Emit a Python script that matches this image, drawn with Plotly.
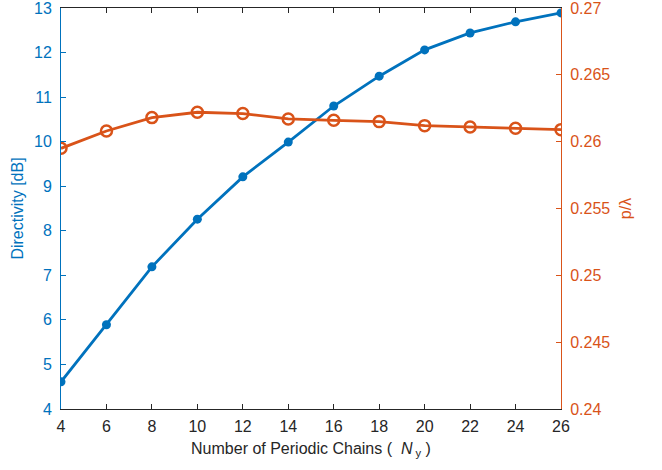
import plotly.graph_objects as go

ny = [4, 6, 8, 10, 12, 14, 16, 18, 20, 22, 24, 26]
directivity = [4.61, 5.89, 7.19, 8.26, 9.21, 9.99, 10.80, 11.47, 12.06, 12.44, 12.69, 12.89]
p_over_lambda = [0.2595, 0.2608, 0.2618, 0.2622, 0.2621, 0.2617, 0.2616, 0.2615, 0.2612, 0.2611, 0.2610, 0.2609]

x_ticks = list(range(4, 27, 2))
y1_ticks = list(range(4, 14))
y2_ticks = [0.24, 0.245, 0.25, 0.255, 0.26, 0.265, 0.27]
y2_labels = ["0.24", "0.245", "0.25", "0.255", "0.26", "0.265", "0.27"]

BLUE = "#0072BD"
ORANGE = "#D95319"
GRAY = "#262626"
FONT = "Liberation Sans, Arial, sans-serif"
FS = 16

fig = go.Figure()
fig.add_trace(go.Scatter(
    x=ny, y=directivity, mode="lines+markers",
    line=dict(color=BLUE, width=2.8),
    marker=dict(color=BLUE, size=9, symbol="circle"),
    yaxis="y", showlegend=False, cliponaxis=True))
fig.add_trace(go.Scatter(
    x=ny, y=p_over_lambda, mode="lines+markers",
    line=dict(color=ORANGE, width=2.8),
    marker=dict(color=ORANGE, size=11, symbol="circle-open",
                line=dict(color=ORANGE, width=2.5)),
    yaxis="y2", showlegend=False, cliponaxis=True))

fig.update_layout(
    width=662, height=470,
    margin=dict(l=61, r=101, t=8, b=61, autoexpand=False),
    paper_bgcolor="white", plot_bgcolor="white",
    font=dict(family=FONT, size=FS, color=GRAY),
    xaxis=dict(
        range=[4, 26], tickvals=x_ticks, ticktext=[str(v) for v in x_ticks],
        showgrid=False, zeroline=False, automargin=False,
        showline=True, linecolor=GRAY, linewidth=1, mirror="ticks",
        ticks="inside", ticklen=5, tickcolor=GRAY,
        ticklabelstandoff=3,
        tickfont=dict(size=FS, color=GRAY, family=FONT),
        title=dict(text="Number of Periodic Chains (  <i>N</i><sub> y</sub> )",
                   font=dict(size=FS, color=GRAY, family=FONT), standoff=8),
    ),
    yaxis=dict(
        range=[4, 13], tickvals=y1_ticks, ticktext=[str(v) for v in y1_ticks],
        showgrid=False, zeroline=False, automargin=False,
        showline=True, linecolor=BLUE, linewidth=1,
        ticks="inside", ticklen=5, tickcolor=BLUE,
        ticklabelstandoff=5, ticklabeloverflow="allow",
        tickfont=dict(size=FS, color=BLUE, family=FONT),
        title=dict(text="Directivity [dB]", font=dict(size=FS, color=BLUE, family=FONT), standoff=6),
    ),
    yaxis2=dict(
        range=[0.24, 0.27], tickvals=y2_ticks, ticktext=y2_labels,
        overlaying="y", side="right", anchor="x",
        showgrid=False, zeroline=False, automargin=False,
        showline=True, linecolor=ORANGE, linewidth=1,
        ticks="inside", ticklen=5, tickcolor=ORANGE,
        ticklabelstandoff=5, ticklabeloverflow="allow",
        tickfont=dict(size=FS, color=ORANGE, family=FONT),
        title=dict(text="p/λ", font=dict(size=FS, color=ORANGE, family=FONT), standoff=10),
    ),
)

fig.write_html("out.html")
